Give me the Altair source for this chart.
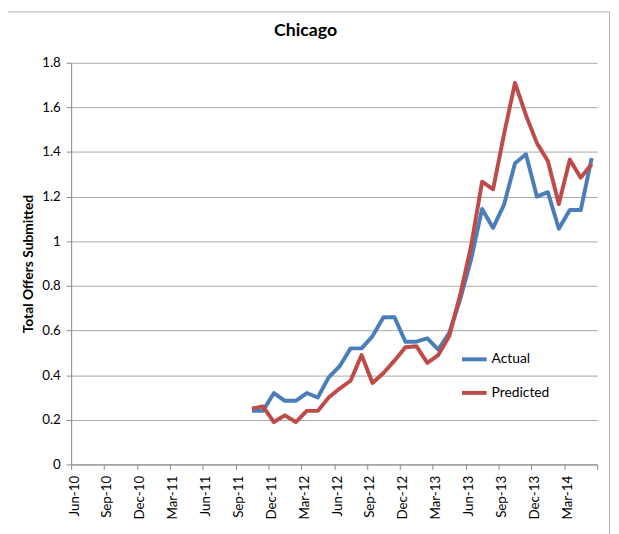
import altair as alt
import pandas as pd

# ---- data ----
months = ["Oct-11", "Nov-11", "Dec-11", "Jan-12", "Feb-12", "Mar-12", "Apr-12", "May-12",
          "Jun-12", "Jul-12", "Aug-12", "Sep-12", "Oct-12", "Nov-12", "Dec-12", "Jan-13",
          "Feb-13", "Mar-13", "Apr-13", "May-13", "Jun-13", "Jul-13", "Aug-13", "Sep-13",
          "Oct-13", "Nov-13", "Dec-13", "Jan-14", "Feb-14", "Mar-14", "Apr-14", "May-14"]
actual = [0.24, 0.24, 0.32, 0.285, 0.285, 0.32, 0.30, 0.39,
          0.44, 0.52, 0.52, 0.575, 0.66, 0.66, 0.55, 0.55,
          0.565, 0.515, 0.59, 0.74, 0.92, 1.145, 1.06, 1.164,
          1.35, 1.39, 1.20, 1.22, 1.056, 1.14, 1.14, 1.373]
predicted = [0.25, 0.26, 0.19, 0.22, 0.19, 0.24, 0.24, 0.30,
             0.34, 0.375, 0.49, 0.365, 0.41, 0.465, 0.525, 0.53,
             0.455, 0.49, 0.575, 0.76, 0.98, 1.267, 1.233, 1.48,
             1.71, 1.565, 1.44, 1.36, 1.167, 1.366, 1.285, 1.346]
tick_labels = ["Jun-10", "Sep-10", "Dec-10", "Mar-11", "Jun-11", "Sep-11", "Dec-11", "Mar-12",
               "Jun-12", "Sep-12", "Dec-12", "Mar-13", "Jun-13", "Sep-13", "Dec-13", "Mar-14"]
y_ticks = [0, 0.2, 0.4, 0.6, 0.8, 1.0, 1.2, 1.4, 1.6, 1.8]
series_names = ["Actual", "Predicted"]
series_colors = ["#4A7EBB", "#BE4B48"]

# ---- build table ----
start = pd.to_datetime(tick_labels[0], format="%b-%y")
def month_pos(label):
    d = pd.to_datetime(label, format="%b-%y")
    return (d.year - start.year) * 12 + (d.month - start.month) + 0.5

rows = []
for name, vals in zip(series_names, [actual, predicted]):
    for m, v in zip(months, vals):
        rows.append({"month": m, "t": month_pos(m), "value": v, "series": name})
df = pd.DataFrame(rows)

n_months = 3 * len(tick_labels)
tick_vals = list(range(0, n_months + 1, 3))
label_js = "[" + ",".join("'%s'" % s for s in tick_labels) + "]"
label_expr = f"datum.value < {n_months} ? {label_js}[round(datum.value / 3)] : ''"

lines = alt.Chart(df).mark_line(strokeWidth=4, strokeJoin="round").encode(
    x=alt.X("t:Q",
            scale=alt.Scale(domain=[0, n_months], nice=False, zero=False),
            axis=alt.Axis(values=tick_vals, labelExpr=label_expr, labelAngle=-90,
                          labelAlign="right", labelBaseline="middle",
                          labelFontSize=13.5, labelPadding=6, tickSize=5,
                          labelOffset=3,
                          grid=False, title=None, labelColor="#000000",
                          domainColor="#868686", tickColor="#868686")),
    y=alt.Y("value:Q",
            scale=alt.Scale(domain=[0, 1.8], nice=False),
            axis=alt.Axis(values=y_ticks, format="~g", grid=True, gridColor="#a6a6a6",
                          labelFontSize=13.5, labelPadding=6, tickSize=5,
                          labelColor="#000000",
                          domainColor="#868686", tickColor="#868686",
                          title="Total Offers Submitted", titleFontSize=14,
                          titleFontWeight="bold", titlePadding=6, titleColor="#000000")),
    color=alt.Color("series:N",
                    scale=alt.Scale(domain=series_names, range=series_colors),
                    legend=alt.Legend(orient="none", legendX=394, legendY=286, title=None,
                                      symbolType="stroke", symbolSize=625,
                                      symbolStrokeWidth=4, labelFontSize=14,
                                      labelOffset=3, rowPadding=11,
                                      labelColor="#000000")),
    order=alt.Order("t:Q"),
)

border = alt.Chart(pd.DataFrame({"a": [0]})).mark_rect(
    fill=None, stroke="#b4b4b4", strokeWidth=1
).encode(
    x=alt.value(-90), x2=alt.value(545.5), y=alt.value(-51.5), y2=alt.value(490)
)

chart = alt.layer(lines, border).properties(
    width=533, height=407,
    title=alt.TitleParams("Chicago", fontSize=18, fontWeight="bold", anchor="middle",
                          frame="group", offset=-43, baseline="alphabetic",
                          dx=-29, color="#000000"),
    autosize=alt.AutoSizeParams(type="none"),
    padding={"left": 64, "top": 52, "right": 14, "bottom": 67},
).configure(font="Lato").configure_view(stroke=None)

chart.save("out.html", embed_options={"renderer": "svg", "actions": False})
